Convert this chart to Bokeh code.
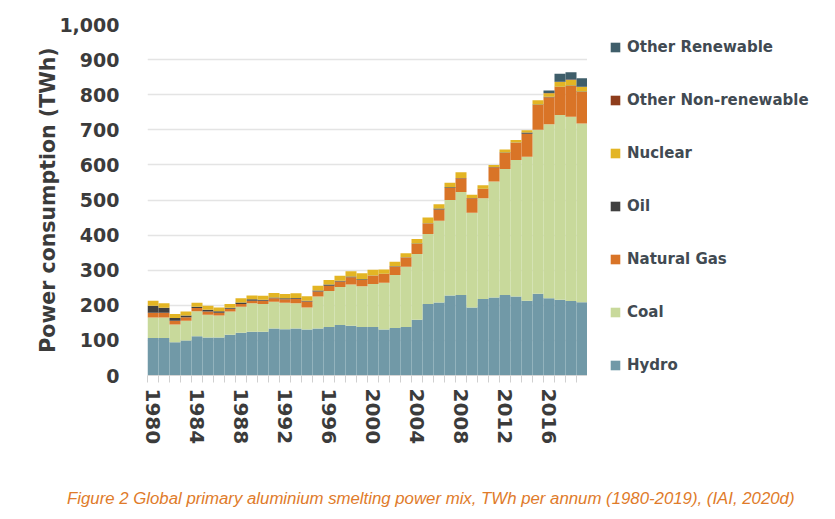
from bokeh.plotting import figure
from bokeh.layouts import row, column
from bokeh.models import (ColumnDataSource, Range1d, FixedTicker, NumeralTickFormatter,
                          Legend, LegendItem, Div)
from bokeh.embed import file_html
from bokeh.resources import INLINE

years = list(range(1980, 2020))

hydro = [107, 107, 95, 100, 112, 108, 108, 116, 122, 125, 125, 134, 132, 134, 131, 134, 138, 144, 142, 138,
         138, 131, 135, 138, 159, 204, 208, 228, 229, 194, 218, 222, 229, 225, 213, 233, 220, 216, 212, 209]
coal = [58, 58, 50, 56, 71, 65, 63, 66, 74, 81, 79, 76, 75, 72, 63, 91, 103, 108, 117, 116,
        123, 133, 151, 172, 187, 199, 233, 272, 294, 270, 287, 331, 359, 389, 410, 467, 496, 526, 525, 509]
natural_gas = [14, 14, 11, 10, 9, 9, 8, 8, 8, 7, 9, 10, 10, 13, 17, 14, 15, 16, 21, 18,
               23, 25, 24, 26, 29, 30, 32, 34, 39, 41, 26, 40, 46, 49, 66, 71, 77, 80, 88, 90]
oil = [20, 14, 8, 5, 4, 5, 4, 3, 4, 4, 3, 2, 3, 2, 2, 3, 3, 2, 2, 2,
       1, 1, 1, 1, 1, 1, 3, 2, 1, 1, 1, 1, 1, 1, 3, 1, 1, 1, 1, 1]
nuclear = [14, 13, 11, 11, 11, 12, 11, 11, 12, 11, 11, 13, 12, 13, 13, 14, 13, 14, 15, 17,
           16, 12, 13, 11, 13, 16, 12, 13, 16, 9, 10, 6, 9, 7, 7, 12, 10, 13, 16, 13]
other_non_renewable = [0, 0, 0, 0, 0, 0, 0, 0, 0, 0, 0, 0, 0, 0, 0, 0, 0, 0, 0, 0,
                       0, 0, 0, 0, 0, 0, 0, 0, 0, 0, 0, 0, 0, 0, 0, 0, 1, 1, 1, 1]
other_renewable = [0, 0, 0, 0, 0, 0, 0, 0, 0, 0, 0, 0, 0, 0, 0, 0, 0, 0, 0, 0,
                   0, 0, 0, 0, 0, 0, 0, 0, 0, 0, 0, 0, 0, 0, 0, 0, 7, 23, 21, 24]

series = ["hydro", "coal", "natural_gas", "oil", "nuclear", "other_non_renewable", "other_renewable"]
labels = ["Hydro", "Coal", "Natural Gas", "Oil", "Nuclear", "Other Non-renewable", "Other Renewable"]
colors = ["#7199a7", "#c8d99b", "#d97427", "#404040", "#e3b524", "#8e3d1c", "#3f5e6a"]

tick_years = [1980, 1984, 1988, 1992, 1996, 2000, 2004, 2008, 2012, 2016]
y_ticks = [0, 100, 200, 300, 400, 500, 600, 700, 800, 900, 1000]

caption_text = "Figure 2 Global primary aluminium smelting power mix, TWh per annum (1980-2019), (IAI, 2020d)"

source = ColumnDataSource(dict(year=years, hydro=hydro, coal=coal, natural_gas=natural_gas, oil=oil,
                               nuclear=nuclear, other_non_renewable=other_non_renewable,
                               other_renewable=other_renewable))

x_start = years[0] - 0.5
x_end = years[-1] + 0.5

p = figure(width=587, height=487, output_backend="svg", toolbar_location=None,
           x_range=Range1d(x_start, x_end), y_range=Range1d(0, 1000),
           min_border_left=147, min_border_right=0, min_border_top=24, min_border_bottom=112)
p.outline_line_color = None
p.background_fill_color = "white"

p.vbar_stack(series, x="year", width=1.0, source=source, color=colors, line_color=None)

tick_font = "DejaVu Sans"
text_col = "#3b3b3b"
p.yaxis.ticker = FixedTicker(ticks=y_ticks)
p.yaxis.formatter = NumeralTickFormatter(format="0,0")
p.yaxis.axis_line_color = None
p.yaxis.major_tick_line_color = None
p.yaxis.minor_tick_line_color = None
p.yaxis.major_label_text_font = tick_font
p.yaxis.major_label_text_font_size = "19px"
p.yaxis.major_label_text_font_style = "bold"
p.yaxis.major_label_text_color = text_col
p.yaxis.major_label_standoff = 22
p.yaxis.axis_label = "Power consumption (TWh)"
p.yaxis.axis_label_text_font = tick_font
p.yaxis.axis_label_text_font_size = "20.5px"
p.yaxis.axis_label_text_font_style = "bold"
p.yaxis.axis_label_text_color = text_col
p.yaxis.axis_label_standoff = -4

p.xaxis.ticker = FixedTicker(ticks=tick_years, minor_ticks=[y - 0.5 for y in years] + [x_end])
p.xaxis.major_label_orientation = "vertical"
p.xaxis.axis_line_color = "#d6d6d6"
p.xaxis.major_tick_line_color = None
p.xaxis.minor_tick_line_color = "#d0d0d0"
p.xaxis.minor_tick_out = 7
p.xaxis.minor_tick_in = 0
p.xaxis.major_tick_out = 0
p.xaxis.major_label_standoff = 6
p.xaxis.major_label_text_font = tick_font
p.xaxis.major_label_text_font_size = "20px"
p.xaxis.major_label_text_font_style = "bold"
p.xaxis.major_label_text_color = text_col

p.xgrid.grid_line_color = None
p.ygrid.grid_line_color = "#e4e4e4"
p.ygrid.grid_line_width = 1.5

# legend panel: a separate figure; the same stack is drawn there but lies outside its view
pl = figure(width=240, height=487, output_backend="svg", toolbar_location=None,
            x_range=Range1d(0, 1), y_range=Range1d(0, 1), x_axis_type=None, y_axis_type=None,
            min_border_left=8, min_border_right=0, min_border_top=24, min_border_bottom=112)
pl.outline_line_color = None
pl.xgrid.visible = False
pl.ygrid.visible = False
stand_ins = pl.vbar_stack(series, x="year", width=1.0, source=source, color=colors, line_color=None)

items = [LegendItem(label=lab, renderers=[r]) for lab, r in zip(labels, stand_ins)][::-1]
legend = Legend(items=items, location="top_left", orientation="vertical")
legend.border_line_color = None
legend.background_fill_alpha = 0
legend.margin = 14
legend.padding = 0
legend.spacing = 35
legend.label_height = 18
legend.glyph_height = 12
legend.glyph_width = 12
legend.label_standoff = 6
legend.label_text_font = tick_font
legend.label_text_font_size = "15px"
legend.label_text_font_style = "bold"
legend.label_text_color = "#414a52"
pl.add_layout(legend, "center")

caption = Div(text=caption_text, width=827, height=24, margin=(0, 0, 0, 0),
              styles={"font-family": "Liberation Sans", "font-style": "italic", "font-size": "16.8px",
                      "color": "#e07b2a", "white-space": "nowrap", "padding-left": "67px",
                      "line-height": "24px"})

layout = column(row(p, pl, spacing=0), caption, spacing=0)

open("out.html", "w").write(file_html(layout, INLINE))
